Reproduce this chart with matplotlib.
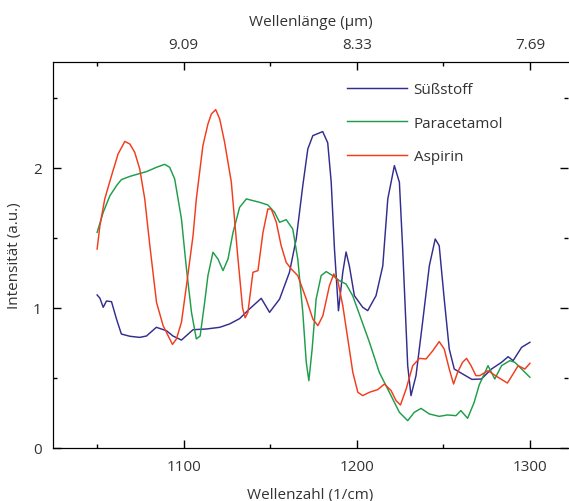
"""
IR-Spektren von Süßstoff, Paracetamol und Aspirin (Wellenzahl / Wellenlänge).
"""
import matplotlib
matplotlib.use('Agg')
import matplotlib.pyplot as plt
from matplotlib.ticker import MultipleLocator

# Süßstoff
suess_x = [1050, 1051.6, 1053.5, 1055.4, 1058.3, 1061.2, 1064, 1068.9, 1074.6, 1078.5,
           1084.2, 1090, 1093.8, 1098.7, 1105.4, 1113.1, 1120.8, 1126.5, 1132.3, 1138,
           1144.8, 1149.6, 1155.4, 1161.1, 1165, 1168.8, 1171.7, 1174.6, 1180.3, 1183.2,
           1185.2, 1187.1, 1189.4, 1191.9, 1193.8, 1195.7, 1198.6, 1203.4, 1206.3, 1211.1,
           1215, 1217.9, 1221.7, 1224.6, 1226.5, 1229.4, 1231.3, 1234.2, 1238, 1241.9,
           1245.3, 1247.6, 1250.5, 1253.4, 1256.3, 1261.1, 1266.5, 1272, 1277.8, 1283.6,
           1287.4, 1290.3, 1295.2, 1300]
suess_y = [1.093, 1.07, 1.005, 1.05, 1.045, 0.92, 0.814, 0.798, 0.79, 0.80,
           0.862, 0.838, 0.80, 0.771, 0.845, 0.85, 0.862, 0.886, 0.924, 0.993,
           1.069, 0.969, 1.064, 1.255, 1.493, 1.874, 2.136, 2.231, 2.26, 2.18,
           1.90, 1.42, 0.98, 1.255, 1.40, 1.30, 1.088, 1.005, 0.981, 1.088,
           1.30, 1.779, 2.017, 1.898, 1.421, 0.588, 0.374, 0.517, 0.898, 1.302,
           1.493, 1.445, 1.064, 0.707, 0.564, 0.529, 0.49, 0.493, 0.564, 0.612,
           0.652, 0.624, 0.719, 0.755]

# Paracetamol
para_x = [1050, 1053.5, 1057.3, 1061.2, 1064, 1068.9, 1073.6, 1078.5, 1084.3, 1089,
          1091.9, 1094.8, 1098.7, 1101.6, 1104.5, 1107.3, 1109.5, 1112.1, 1114, 1116.9,
          1119.8, 1122.7, 1125.6, 1128.5, 1132.3, 1136.2, 1143.8, 1148.6, 1152.5, 1155.4,
          1159.2, 1163, 1165.9, 1168.8, 1170.8, 1172.3, 1174.2, 1176.5, 1179.4, 1182.3,
          1186.1, 1190, 1193.8, 1197.6, 1201.5, 1207.3, 1213, 1218.8, 1224.6, 1229.4,
          1233.2, 1237.1, 1241.9, 1247.6, 1252.4, 1257.3, 1260.1, 1264, 1267.8, 1270.7,
          1275.8, 1279.7, 1283.6, 1288.4, 1291.3, 1295.2, 1300]
para_y = [1.54, 1.683, 1.80, 1.874, 1.917, 1.94, 1.957, 1.974, 2.005, 2.026,
          2.005, 1.921, 1.636, 1.279, 0.969, 0.779, 0.80, 1.04, 1.231, 1.398,
          1.35, 1.267, 1.35, 1.54, 1.719, 1.779, 1.755, 1.736, 1.683, 1.612,
          1.631, 1.564, 1.35, 0.969, 0.612, 0.481, 0.707, 1.064, 1.231, 1.26,
          1.231, 1.195, 1.171, 1.088, 0.955, 0.755, 0.540, 0.398, 0.255, 0.195,
          0.255, 0.283, 0.243, 0.226, 0.236, 0.231, 0.267, 0.212, 0.326, 0.45,
          0.588, 0.493, 0.588, 0.624, 0.612, 0.564, 0.505]

# Aspirin
asp_x = [1050, 1051.6, 1054.4, 1058.3, 1062.1, 1066, 1068.9, 1071.7, 1074.6, 1077.5,
         1080.4, 1084.3, 1088.1, 1091, 1093.5, 1095.8, 1098.7, 1101.6, 1105.4, 1107.3,
         1111.1, 1114, 1116, 1118.5, 1120.8, 1123.6, 1127.5, 1131, 1134, 1135.5,
         1137.1, 1140, 1142.9, 1145.8, 1148.6, 1150.6, 1153.5, 1156.3, 1159.2, 1162.1,
         1165.9, 1170.8, 1174.6, 1177.5, 1180.4, 1184.2, 1186.7, 1189, 1191.9, 1194.8,
         1197.7, 1200.6, 1203.4, 1207.3, 1212.1, 1216, 1219.8, 1222.7, 1225.2, 1228.5,
         1232.3, 1236.2, 1240, 1243.9, 1247.6, 1250.5, 1253.4, 1255.9, 1258.2, 1261.1,
         1263.4, 1266, 1268.8, 1271, 1275.8, 1281.6, 1287, 1290.3, 1293.2, 1297.1, 1300]
asp_y = [1.421, 1.588, 1.779, 1.945, 2.10, 2.19, 2.171, 2.112, 1.993, 1.779,
         1.45, 1.04, 0.874, 0.802, 0.74, 0.779, 0.898, 1.16, 1.517, 1.779,
         2.16, 2.314, 2.386, 2.417, 2.35, 2.186, 1.90, 1.40, 1.0, 0.93,
         0.969, 1.255, 1.267, 1.54, 1.707, 1.707, 1.612, 1.445, 1.326, 1.279,
         1.231, 1.064, 0.921, 0.874, 0.945, 1.16, 1.243, 1.195, 1.017, 0.779,
         0.540, 0.398, 0.374, 0.398, 0.417, 0.457, 0.41, 0.338, 0.307, 0.421,
         0.588, 0.64, 0.636, 0.695, 0.760, 0.707, 0.564, 0.457, 0.540, 0.612,
         0.64, 0.588, 0.517, 0.517, 0.552, 0.505, 0.464, 0.529, 0.588, 0.564, 0.605]

labels = ['Süßstoff', 'Paracetamol', 'Aspirin']
colors = ['#332d8f', '#1e9e4a', '#f23c1c']
top_ticks = [1100, 1200, 1300]

TEXT = '#333333'


def style_axis(ax):
    """Inward ticks on all sides, minor ticks at half steps."""
    ax.xaxis.set_major_locator(MultipleLocator(100))
    ax.xaxis.set_minor_locator(MultipleLocator(50))
    ax.yaxis.set_major_locator(MultipleLocator(1))
    ax.yaxis.set_minor_locator(MultipleLocator(0.5))
    ax.tick_params(which='both', direction='in', colors='black', labelcolor=TEXT,
                   labelsize=11)
    ax.tick_params(which='major', length=6, width=1)
    ax.tick_params(which='minor', length=3, width=1)


def main():
    plt.rcParams['font.family'] = ['Open Sans', 'DejaVu Sans']
    fig = plt.figure(figsize=(5.69, 5.02), dpi=100)
    ax = fig.add_axes([53 / 569, 53 / 502, 515 / 569, 386 / 502])

    series = [(suess_x, suess_y), (para_x, para_y), (asp_x, asp_y)]
    for (xs, ys), lab, col in zip(series, labels, colors):
        ax.plot(xs, ys, color=col, linewidth=1.05, label=lab)

    ax.set_xlim(1024.5, 1322)
    ax.set_ylim(0, 2.757)
    style_axis(ax)
    ax.tick_params(axis='y', which='both', right=True, pad=8)
    ax.tick_params(axis='x', which='both', pad=8)
    ax.spines['right'].set_visible(False)
    ax.set_xlabel('Wellenzahl (1/cm)', fontsize=11, color=TEXT, labelpad=9)
    ax.set_ylabel('Intensität (a.u.)', fontsize=11, color=TEXT, labelpad=8)

    # top axis: wavelength in µm
    ax2 = ax.twiny()
    ax2.set_xlim(ax.get_xlim())
    style_axis(ax2)
    ax2.set_xticks(top_ticks)
    ax2.set_xticklabels([f'{1e4 / w:.2f}' for w in top_ticks])
    ax2.tick_params(axis='x', pad=7)
    ax2.spines['right'].set_visible(False)
    ax2.set_xlabel('Wellenlänge (µm)', fontsize=11, color=TEXT, labelpad=9)

    ax.legend(loc='upper left', bbox_to_anchor=(0.571, 0.948), frameon=False,
              fontsize=11, handlelength=3.9, handletextpad=0.45, labelspacing=1.22,
              borderpad=0, borderaxespad=0, labelcolor=TEXT)

    fig.savefig('out.png', dpi=100)
    plt.close(fig)


if __name__ == "__main__":
    main()
